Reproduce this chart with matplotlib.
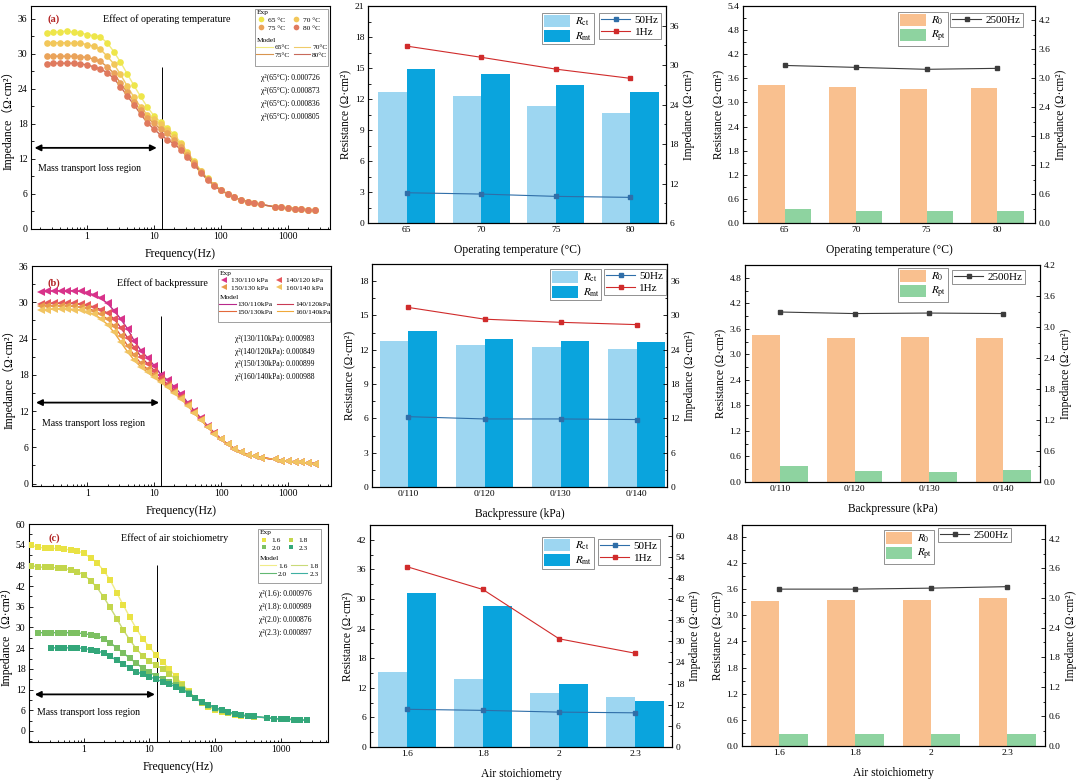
import numpy as np
import matplotlib
matplotlib.use('Agg')
import matplotlib.pyplot as plt
from matplotlib.ticker import AutoMinorLocator, NullFormatter, FormatStrFormatter
from matplotlib.lines import Line2D
from matplotlib.patches import Rectangle

plt.rcParams['font.family'] = ['Liberation Serif', 'DejaVu Serif']
plt.rcParams['mathtext.fontset'] = 'stix'
plt.rcParams['axes.linewidth'] = 0.8

# ---------------- data ----------------
# EIS frequencies (Hz), each series uses the last len(series) points
freq = [0.158, 0.2, 0.251, 0.316, 0.398, 0.501, 0.631, 0.794,
        1.0, 1.26, 1.58, 2.0, 2.51, 3.16, 3.98, 5.01, 6.31, 7.94,
        10.0, 12.6, 15.8, 20.0, 25.1, 31.6, 39.8, 50.1, 63.1, 79.4,
        100, 126, 158, 200, 251, 316, 398,
        631, 794, 1000, 1259, 1585, 1995, 2512]

# (a) operating temperature
z_65 = [33.6, 33.7, 33.8, 33.9, 33.7, 33.6,
        33.3, 33.1, 32.9, 31.9, 30.4, 28.6, 26.6, 24.6, 22.7, 20.9,
        19.4, 18.3, 17.3, 16.2, 14.8, 13.2, 11.6, 10.0, 8.7, 7.6,
        6.7, 6.0, 5.4, 5.0, 4.7, 4.4, 4.2,
        3.8, 3.7, 3.6, 3.5, 3.4, 3.3, 3.2]
z_70 = [31.8, 31.9, 31.9, 31.9, 31.8, 31.8,
        31.6, 31.3, 30.8, 29.6, 28.3, 26.5, 24.5, 22.6, 20.9, 19.6,
        18.8, 18.0, 17.0, 15.8, 14.5, 13.0, 11.5, 9.9, 8.6, 7.6,
        6.7, 6.0, 5.4, 5.0, 4.7, 4.4, 4.2,
        3.8, 3.7, 3.6, 3.5, 3.4, 3.3, 3.2]
z_75 = [29.6, 29.6, 29.6, 29.6, 29.6, 29.5,
        29.4, 29.1, 28.7, 27.8, 26.7, 25.0, 23.4, 21.8, 20.3, 19.1,
        18.1, 17.1, 16.4, 15.3, 14.1, 12.7, 11.3, 9.8, 8.5, 7.5,
        6.6, 6.0, 5.4, 5.0, 4.7, 4.4, 4.2,
        3.8, 3.7, 3.6, 3.5, 3.4, 3.3, 3.2]
z_80 = [28.3, 28.4, 28.4, 28.4, 28.4, 28.3,
        28.1, 27.8, 27.4, 26.8, 25.8, 24.4, 22.8, 21.3, 19.7, 18.2,
        17.1, 16.1, 15.3, 14.6, 13.6, 12.3, 11.0, 9.6, 8.4, 7.4,
        6.6, 6.0, 5.4, 5.0, 4.7, 4.4, 4.2,
        3.8, 3.7, 3.6, 3.5, 3.4, 3.3, 3.2]

# (b) backpressure
z_130 = [31.7, 31.8, 31.9, 31.9, 31.9, 31.9, 31.8,
         31.6, 31.2, 30.7, 29.8, 28.6, 27.2, 25.6, 23.6, 22.0, 20.8,
         19.5, 18.0, 17.1, 16.0, 14.8, 13.4, 12.0, 10.8, 9.5, 8.4,
         7.4, 6.5, 5.8, 5.2, 4.8, 4.5, 4.3,
         4.0, 3.8, 3.7, 3.6, 3.5, 3.4, 3.3]
z_140 = [29.7, 29.8, 29.8, 29.8, 29.8, 29.8, 29.7,
         29.5, 29.2, 28.8, 28.2, 27.2, 25.8, 24.1, 22.5, 21.0, 19.8,
         18.7, 17.5, 16.4, 15.4, 14.4, 13.1, 11.8, 10.7, 9.4, 8.3,
         7.3, 6.5, 5.8, 5.2, 4.8, 4.5, 4.3,
         4.0, 3.8, 3.7, 3.6, 3.5, 3.4, 3.3]
z_150 = [29.3, 29.4, 29.4, 29.4, 29.4, 29.3, 29.2,
         29.0, 28.6, 28.0, 27.2, 26.0, 24.5, 22.8, 21.2, 19.9, 18.9,
         18.0, 17.0, 16.1, 15.2, 14.2, 13.0, 11.7, 10.6, 9.3, 8.2,
         7.3, 6.5, 5.8, 5.2, 4.8, 4.5, 4.3,
         4.0, 3.8, 3.7, 3.6, 3.5, 3.4, 3.3]
z_160 = [28.7, 28.8, 28.9, 28.9, 28.9, 28.8, 28.7,
         28.4, 28.0, 27.3, 26.3, 25.0, 23.4, 21.8, 20.4, 19.3, 18.4,
         17.6, 16.8, 15.9, 15.0, 14.0, 12.9, 11.6, 10.5, 9.3, 8.2,
         7.3, 6.5, 5.8, 5.2, 4.8, 4.5, 4.3,
         4.0, 3.8, 3.7, 3.6, 3.5, 3.4, 3.3]

# (c) air stoichiometry
z_16 = [53.8, 53.3, 53.0, 52.9, 52.9, 52.7, 52.5, 52.2,
        51.5, 50.2, 48.8, 46.5, 43.8, 40.1, 36.5, 33.0, 29.6, 26.7,
        24.3, 22.0, 20.0, 18.0, 15.8, 13.6, 11.5, 9.5, 8.1, 7.0,
        6.2, 5.6, 5.1, 4.7, 4.4, 4.2, 4.1,
        3.8, 3.6, 3.5, 3.4, 3.3, 3.2, 3.1]
z_18 = [47.9, 47.6, 47.4, 47.4, 47.3, 47.1, 46.7, 46.2,
        45.2, 43.6, 41.6, 38.8, 35.8, 32.6, 29.3, 26.4, 23.8, 21.7,
        20.2, 19.1, 18.0, 16.6, 15.0, 13.2, 11.3, 9.5, 8.2, 7.2,
        6.4, 5.8, 5.3, 4.9, 4.5, 4.3, 4.1,
        3.8, 3.6, 3.5, 3.4, 3.3, 3.2, 3.1]
z_20 = [28.5, 28.5, 28.5, 28.5, 28.5, 28.5, 28.4,
        28.2, 27.9, 27.5, 26.8, 25.6, 24.1, 22.6, 21.1, 19.6, 18.2,
        17.0, 16.0, 15.1, 14.2, 13.3, 12.3, 11.0, 9.6, 8.4, 7.6,
        6.8, 6.1, 5.5, 5.0, 4.6, 4.4, 4.2,
        3.8, 3.6, 3.5, 3.4, 3.3, 3.2, 3.1]
z_23 = [24.1, 24.1, 24.1, 24.1, 24.1,
        23.9, 23.6, 23.2, 22.6, 21.6, 20.5, 19.4, 18.3, 17.2, 16.4,
        15.7, 15.0, 14.3, 13.6, 12.8, 11.9, 10.8, 9.5, 8.4, 7.6,
        6.8, 6.1, 5.5, 5.0, 4.6, 4.4, 4.2,
        3.8, 3.6, 3.5, 3.4, 3.3, 3.2, 3.1]

# bar charts
temp_cats = ['65', '70', '75', '80']
rct_temp = [12.7, 12.3, 11.3, 10.6]
rmt_temp = [14.9, 14.4, 13.4, 12.7]
z1hz_temp = [32.9, 31.2, 29.4, 28.0]
z50hz_temp = [10.6, 10.4, 10.05, 9.9]
r0_temp = [3.44, 3.38, 3.34, 3.36]
rpt_temp = [0.36, 0.31, 0.29, 0.29]
z2500_temp = [3.26, 3.22, 3.18, 3.20]

bp_cats = ['0/110', '0/120', '0/130', '0/140']
rct_bp = [12.8, 12.4, 12.25, 12.1]
rmt_bp = [13.65, 12.9, 12.8, 12.7]
z1hz_bp = [31.4, 29.35, 28.8, 28.4]
z50hz_bp = [12.3, 11.9, 11.9, 11.8]
r0_bp = [3.45, 3.39, 3.41, 3.38]
rpt_bp = [0.38, 0.26, 0.235, 0.29]
z2500_bp = [3.29, 3.26, 3.27, 3.26]

st_cats = ['1.6', '1.8', '2', '2.3']
rct_st = [15.3, 13.7, 10.9, 10.1]
rmt_st = [31.3, 28.6, 12.7, 9.3]
z1hz_st = [51.2, 44.7, 30.7, 26.6]
z50hz_st = [10.7, 10.4, 9.9, 9.7]
r0_st = [3.33, 3.35, 3.36, 3.39]
rpt_st = [0.28, 0.28, 0.28, 0.28]
z2500_st = [3.18, 3.18, 3.20, 3.23]

# ---------------- figure ----------------
W, H = 1080, 782
fig = plt.figure(figsize=(10.8, 7.82), dpi=100)


def px_axes(x0, y0, x1, y1):
    return fig.add_axes([x0 / W, 1 - y1 / H, (x1 - x0) / W, (y1 - y0) / H])


def ticks_in(ax, size):
    ax.tick_params(which='both', direction='in', labelsize=size, width=0.6, pad=2.5)
    ax.tick_params(which='major', length=3)
    ax.tick_params(which='minor', length=1.8)


def eis_panel(box, series, marker, ms, xlim, ylim, yticks, tag, title, title_xy,
              vline, arrow_y, arrow_x, text_xy, lbox, model_top, exp_labels,
              model_labels, chi, chi_x, chi_y):
    ax = px_axes(*box)
    for z, mc, lc in series:
        f = freq[-len(z):]
        ax.plot(f, z, color=lc, lw=1.0, zorder=2)
        ax.plot(f, z, ls='none', marker=marker, ms=ms, mfc=mc, mec=mc, mew=0, zorder=3)
    ax.set_xscale('log')
    ax.set_xlim(*xlim)
    ax.set_ylim(*ylim)
    ax.set_xticks([1, 10, 100, 1000])
    ax.set_xticklabels(['1', '10', '100', '1000'])
    ax.xaxis.set_minor_formatter(NullFormatter())
    ax.set_yticks(yticks)
    ax.yaxis.set_minor_locator(AutoMinorLocator(2))
    ticks_in(ax, 7)
    ax.set_xlabel('Frequency(Hz)', fontsize=8.5, labelpad=5)
    ax.set_ylabel('Impedance（Ω·cm²）', fontsize=8.5, labelpad=2,
                  family=['Liberation Serif', 'Noto Sans CJK SC'])
    ax.vlines(vline[0], ylim[0], vline[1], color='k', lw=0.7)
    ax.annotate('', xy=(arrow_x[0], arrow_y), xytext=(arrow_x[1], arrow_y),
                arrowprops=dict(arrowstyle='<|-|>', color='k', lw=1.3,
                                mutation_scale=9, shrinkA=0, shrinkB=0))
    ax.text(text_xy[0], text_xy[1], 'Mass transport loss region', fontsize=7,
            ha='left', va='center')
    ax.text(title_xy[0], title_xy[1], tag, transform=ax.transAxes, fontsize=7.5,
            color='#B22222', fontweight='bold', ha='center', va='center')
    ax.text(title_xy[2], title_xy[1], title, transform=ax.transAxes, fontsize=7.3,
            ha='center', va='center')
    # legend box
    x0, x1, yt, yb = lbox
    ax.add_patch(Rectangle((x0, yb), x1 - x0, yt - yb, transform=ax.transAxes,
                           fill=False, ec='#909090', lw=0.6, zorder=4))
    order = [0, 2, 1, 3]
    exp_h = [Line2D([], [], ls='none', marker=marker, ms=ms * 0.85,
                    mfc=series[i][1], mec=series[i][1], mew=0) for i in order]
    mod_h = [Line2D([], [], color=series[i][2], lw=0.8) for i in order]
    leg1 = ax.legend(exp_h, [exp_labels[i] for i in order], ncol=2, title='Exp',
                     loc='upper left', bbox_to_anchor=(x0, yt), frameon=False,
                     fontsize=5.3, title_fontsize=5.3, alignment='left', handlelength=1.2,
                     handletextpad=0.4, columnspacing=0.8, labelspacing=0.2,
                     borderpad=0.2, borderaxespad=0)
    ax.add_artist(leg1)
    ax.legend(mod_h, [model_labels[i] for i in order], ncol=2, title='Model',
              loc='upper left', bbox_to_anchor=(x0, model_top), frameon=False,
              fontsize=5.3, title_fontsize=5.3, alignment='left', handlelength=2.2,
              handletextpad=0.3, columnspacing=0.5, labelspacing=0.2,
              borderpad=0.2, borderaxespad=0)
    for s, y in zip(chi, chi_y):
        ax.text(chi_x, y, s, transform=ax.transAxes, fontsize=5.5, ha='center', va='center')
    return ax


def bar_panel(box, cats, va, vb, la, lb, ca, cb, lines, width, xlim, yl, ytl, yr, ytr,
              fmt, xlabel, leg1_xy, leg2_xy):
    ax = px_axes(*box)
    x = np.arange(len(cats))
    ax.bar(x - width / 2, va, width, color=ca, label=la, zorder=2)
    ax.bar(x + width / 2, vb, width, color=cb, label=lb, zorder=2)
    ax.set_xlim(*xlim)
    ax.set_ylim(*yl)
    ax.set_yticks(ytl)
    ax.yaxis.set_major_formatter(FormatStrFormatter(fmt))
    ax.yaxis.set_minor_locator(AutoMinorLocator(2))
    ax.set_xticks(x)
    ax.set_xticklabels(cats)
    ticks_in(ax, 6.8)
    ax.set_xlabel(xlabel, fontsize=8.3, labelpad=7)
    ax.set_ylabel('Resistance (Ω·cm²)', fontsize=8.3, labelpad=2)
    ax2 = ax.twinx()
    for vals, lab, c in lines:
        ax2.plot(x, vals, color=c, lw=0.8, marker='s', ms=3.3, label=lab)
    ax2.set_ylim(*yr)
    ax2.set_yticks(ytr)
    ax2.yaxis.set_major_formatter(FormatStrFormatter(fmt))
    ax2.yaxis.set_minor_locator(AutoMinorLocator(2))
    ticks_in(ax2, 6.8)
    ax2.set_ylabel('Impedance (Ω·cm²)', fontsize=8.3, labelpad=3)
    l1 = ax.legend(loc='upper left', bbox_to_anchor=leg1_xy, fontsize=8,
                   handlelength=2.4, handleheight=1.3, fancybox=False,
                   edgecolor='#808080', framealpha=1, borderpad=0.15,
                   labelspacing=0.15, handletextpad=0.4, borderaxespad=0)
    l1.get_frame().set_linewidth(0.6)
    l2 = ax2.legend(loc='upper left', bbox_to_anchor=leg2_xy, fontsize=8,
                    handlelength=2.6, fancybox=False, edgecolor='#808080',
                    framealpha=1, borderpad=0.2, labelspacing=0.2,
                    handletextpad=0.4, borderaxespad=0)
    l2.get_frame().set_linewidth(0.6)
    return ax, ax2


# ---- left column: impedance spectra ----
eis_panel((31, 6, 330, 229),
          [(z_65, '#EEE64A', '#F2EA80'), (z_70, '#F2C75A', '#EFCB6A'),
           (z_75, '#EAA35A', '#D9944E'), (z_80, '#E07A5E', '#C86A5A')],
          'o', 4.8, (0.146, 4240), (0, 38.2), np.arange(0, 37, 6),
          '(a)', 'Effect of operating temperature', (0.074, 0.942, 0.455),
          (13.0, 27.8), 13.9, (0.165, 11.0), (0.187, 10.4),
          (0.749, 0.993, 0.987, 0.731), 0.865,
          ['65 °C', '70 °C', '75 °C', '80 °C'], ['65°C', '70°C', '75°C', '80°C'],
          ['χ²(65°C): 0.000726', 'χ²(65°C): 0.000873',
           'χ²(65°C): 0.000836', 'χ²(65°C): 0.000805'],
          0.866, [0.677, 0.619, 0.561, 0.502])

eis_panel((32, 266, 331, 486),
          [(z_130, '#D8338A', '#B8288A'), (z_140, '#E6585C', '#C93A55'),
           (z_150, '#E89A4C', '#E3693A'), (z_160, '#F1C462', '#F0A83A')],
          '<', 5.2, (0.148, 4400), (-0.4, 36), np.arange(0, 37, 6),
          '(b)', 'Effect of backpressure', (0.074, 0.924, 0.435),
          (12.6, 27.8), 13.4, (0.17, 11.8), (0.21, 9.9),
          (0.622, 0.997, 0.986, 0.745), 0.877,
          ['130/110 kPa', '140/120 kPa', '150/130 kPa', '160/140 kPa'],
          ['130/110kPa', '140/120kPa', '150/130kPa', '160/140kPa'],
          ['χ²(130/110kPa): 0.000983', 'χ²(140/120kPa): 0.000849',
           'χ²(150/130kPa): 0.000899', 'χ²(160/140kPa): 0.000988'],
          0.813, [0.668, 0.609, 0.555, 0.495])

eis_panel((29, 524, 328, 742),
          [(z_16, '#E9E244', '#F0EC88'), (z_18, '#C3D64C', '#C9DA78'),
           (z_20, '#7DC062', '#62B872'), (z_23, '#34A77A', '#3FB0A2')],
          's', 4.2, (0.145, 5300), (-3.2, 60), np.arange(0, 61, 6),
          '(c)', 'Effect of air stoichiometry', (0.083, 0.934, 0.488),
          (13.2, 48.1), 10.6, (0.178, 12.1), (0.19, 5.3),
          (0.766, 0.977, 0.977, 0.729), 0.858,
          ['1.6', '1.8', '2.0', '2.3'], ['1.6', '1.8', '2.0', '2.3'],
          ['χ²(1.6): 0.000976', 'χ²(1.8): 0.000989',
           'χ²(2.0): 0.000876', 'χ²(2.3): 0.000897'],
          0.856, [0.679, 0.619, 0.560, 0.500])

# ---- middle column: Rct / Rmt ----
rct_lab = r'$R_{\rm ct}$'
rmt_lab = r'$R_{\rm mt}$'
c_rct, c_rmt = '#9DD6F1', '#0AA4DD'
c50, c1 = '#2F6EA8', '#D02B2B'

bar_panel((368, 6, 666, 223), temp_cats, rct_temp, rmt_temp, rct_lab, rmt_lab, c_rct, c_rmt,
          [(z50hz_temp, '50Hz', c50), (z1hz_temp, '1Hz', c1)], 0.38, (-0.52, 3.48),
          (0, 21), np.arange(0, 22, 3), (6, 39), np.arange(6, 37, 6), '%g',
          'Operating temperature (°C)', (0.584, 0.968), (0.775, 0.968))

bar_panel((372, 264, 667, 487), bp_cats, rct_bp, rmt_bp, rct_lab, rmt_lab, c_rct, c_rmt,
          [(z50hz_bp, '50Hz', c50), (z1hz_bp, '1Hz', c1)], 0.38, (-0.48, 3.40),
          (0, 19.5), np.arange(0, 19, 3), (0, 39), np.arange(0, 37, 6), '%g',
          'Backpressure (kPa)', (0.603, 0.978), (0.786, 0.978))

bar_panel((370, 525, 672, 747), st_cats, rct_st, rmt_st, rct_lab, rmt_lab, c_rct, c_rmt,
          [(z50hz_st, '50Hz', c50), (z1hz_st, '1Hz', c1)], 0.38, (-0.48, 3.48),
          (0, 45), np.arange(0, 43, 6), (0, 63), np.arange(0, 61, 6), '%g',
          'Air stoichiometry', (0.570, 0.946), (0.755, 0.937))

# ---- right column: R0 / Rpt ----
r0_lab = r'$R_{\rm 0}$'
rpt_lab = r'$R_{\rm pt}$'
c_r0, c_rpt = '#F9C08F', '#8ED3A0'
c2500 = '#3C3C3C'

bar_panel((743, 6, 1035, 223), temp_cats, r0_temp, rpt_temp, r0_lab, rpt_lab, c_r0, c_rpt,
          [(z2500_temp, '2500Hz', c2500)], 0.375, (-0.59, 3.53),
          (0, 5.4), np.arange(0, 5.5, 0.6), (0, 4.49), np.arange(0, 4.3, 0.6), '%.1f',
          'Operating temperature (°C)', (0.531, 0.972), (0.709, 0.968))

bar_panel((745, 265, 1040, 482), bp_cats, r0_bp, rpt_bp, r0_lab, rpt_lab, c_r0, c_rpt,
          [(z2500_bp, '2500Hz', c2500)], 0.375, (-0.47, 3.49),
          (0, 5.1), np.arange(0, 4.9, 0.6), (0, 4.2), np.arange(0, 4.3, 0.6), '%.1f',
          'Backpressure (kPa)', (0.519, 0.986), (0.702, 0.977))

bar_panel((742, 525, 1045, 746), st_cats, r0_st, rpt_st, r0_lab, rpt_lab, c_r0, c_rpt,
          [(z2500_st, '2500Hz', c2500)], 0.375, (-0.49, 3.50),
          (0, 5.07), np.arange(0, 4.9, 0.6), (0, 4.48), np.arange(0, 4.3, 0.6), '%.1f',
          'Air stoichiometry', (0.469, 0.977), (0.647, 0.986))

fig.savefig('out.png', dpi=100)
